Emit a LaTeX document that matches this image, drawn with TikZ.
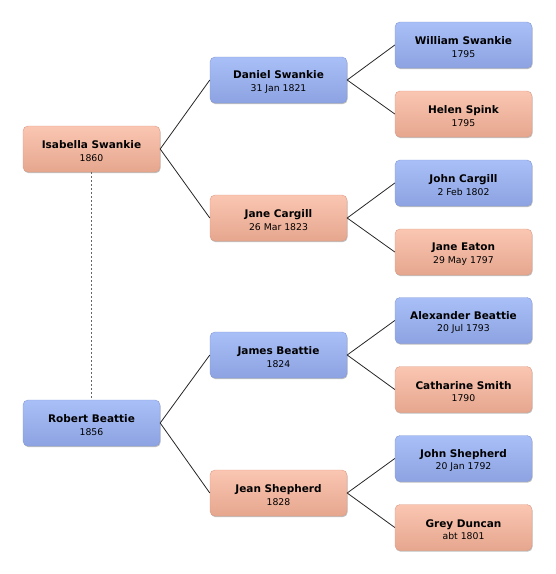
\documentclass[tikz,border=0pt]{standalone}
\usepackage{fontspec}
\setmainfont{DejaVu Sans}
\usepackage{xcolor}
\usetikzlibrary{shadows,positioning}
\definecolor{mtop}{HTML}{A9BFF7}
\definecolor{mbot}{HTML}{8DA3E2}
\definecolor{mline}{HTML}{8499D6}
\definecolor{ftop}{HTML}{FAC6B2}
\definecolor{fbot}{HTML}{E6A68E}
\definecolor{fline}{HTML}{DC9C86}
\newcommand{\who}[2]{\rule{0pt}{12pt}{\fontsize{10.5}{12}\selectfont\bfseries #1}\\[0.5pt]{\fontsize{9.3}{11}\selectfont #2}}

\begin{document}
\begin{tikzpicture}[x=1pt,y=-1pt,
 per/.style={rounded corners=5pt,minimum width=137pt,minimum height=46pt,align=center,inner sep=1pt,
  line width=0.4pt,drop shadow={shadow xshift=0.6pt,shadow yshift=-1.2pt,opacity=0.25,fill=black}},
 male/.style={per,draw=mline,top color=mtop,bottom color=mbot},
 fem/.style={per,draw=fline,top color=ftop,bottom color=fbot},
 lnk/.style={line width=0.8pt,black!85},
 mar/.style={black!60,line width=1pt,dash pattern=on 2pt off 2pt}]
\useasboundingbox (0,0) rectangle (556,574);
% left column
\node[fem] (isab) at (91.5,149) {\who{Isabella Swankie}{1860}};
\node[male] (rob) at (91.5,423) {\who{Robert Beattie}{1856}};
% middle column
\node[male] (dan) at (278.5,80) {\who{Daniel Swankie}{31 Jan 1821}};
\node[fem] (janec) at (278.5,218) {\who{Jane Cargill}{26 Mar 1823}};
\node[male] (jam) at (278.5,355) {\who{James Beattie}{1824}};
\node[fem] (jean) at (278.5,493) {\who{Jean Shepherd}{1828}};
% right column
\node[male] (wil) at (463.5,45) {\who{William Swankie}{1795}};
\node[fem] (hel) at (463.5,114) {\who{Helen Spink}{1795}};
\node[male] (johnc) at (463.5,183) {\who{John Cargill}{2 Feb 1802}};
\node[fem] (jeat) at (463.5,252) {\who{Jane Eaton}{29 May 1797}};
\node[male] (alex) at (463.5,320.5) {\who{Alexander Beattie}{20 Jul 1793}};
\node[fem] (cath) at (463.5,389.5) {\who{Catharine Smith}{1790}};
\node[male] (johns) at (463.5,458.5) {\who{John Shepherd}{20 Jan 1792}};
\node[fem] (grey) at (463.5,527.5) {\who{Grey Duncan}{abt 1801}};
% links
\draw[mar] (isab.south) -- (rob.north);
\draw[lnk] (dan.west) -- (isab.east) -- (janec.west);
\draw[lnk] (jam.west) -- (rob.east) -- (jean.west);
\draw[lnk] (wil.west) -- (dan.east) -- (hel.west);
\draw[lnk] (johnc.west) -- (janec.east) -- (jeat.west);
\draw[lnk] (alex.west) -- (jam.east) -- (cath.west);
\draw[lnk] (johns.west) -- (jean.east) -- (grey.west);
\end{tikzpicture}
\end{document}
